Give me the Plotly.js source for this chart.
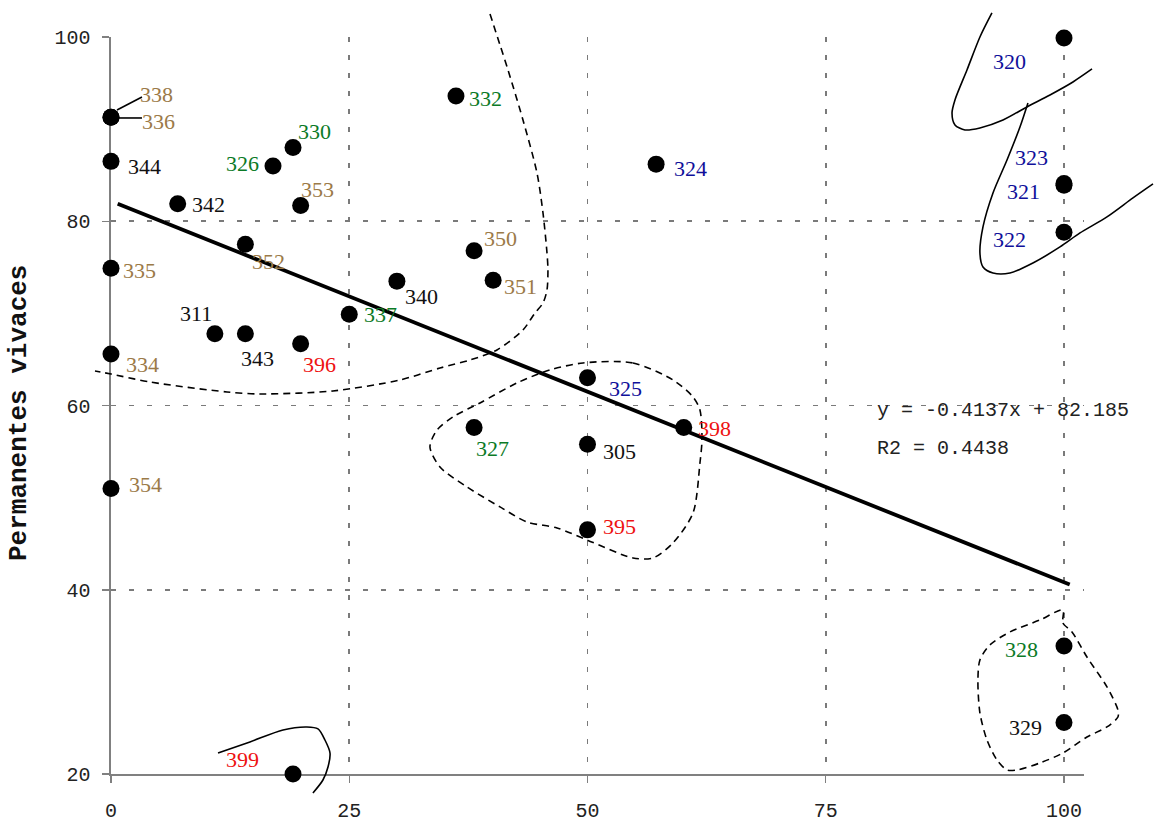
<!DOCTYPE html>
<html>
<head>
<meta charset="utf-8">
<script src="https://cdn.plot.ly/plotly-3.0.1.min.js"></script>
<style>
  html, body { margin: 0; padding: 0; background: #ffffff; }
  #chart { width: 1158px; height: 823px; }
</style>
</head>
<body>
<div id="chart"></div>
<script>
// Relevé codes and their coordinates
const ids = ['338','336','344','335','334','354','342','326','330','353','352','311','343','396','337','340',
             '332','350','351','324','325','327','305','398','395','320','323','321','322','328','329','399'];
const xVals = [0, 0, 0, 0, 0, 0, 7.0, 17.0, 19.1, 19.9, 14.1, 10.9, 14.1, 19.9, 25.0, 30.0,
               36.2, 38.1, 40.1, 57.2, 50.0, 38.1, 50.0, 60.1, 50.0, 100, 100, 100, 100, 100, 100, 19.1];
const yVals = [91.3, 91.3, 86.5, 74.9, 65.6, 51.0, 81.9, 86.0, 88.0, 81.7, 77.5, 67.8, 67.8, 66.7, 69.9, 73.5,
               93.6, 76.8, 73.6, 86.2, 63.0, 57.6, 55.8, 57.6, 46.5, 99.9, 84.1, 83.9, 78.8, 33.9, 25.6, 20.0];
const groups = ['b','b','k','b','b','b','k','g','g','b','b','k','k','r','g','k',
                'g','b','b','u','u','g','k','r','r','u','u','u','u','g','k','r'];

// Linear fit
const slope = -0.4137;
const intercept = 82.185;
const r2 = 0.4438;
const fitX = [0.7, 100.6];

// Hand-drawn group outlines (data units)
const outline1X = [39.77, 40.82, 41.66, 43.23, 44.70, 45.33, 45.75, 45.85, 45.75, 45.33, 44.49, 43.23, 40.50, 37.67, 34.52, 30.32, 23.29, 15.63, 12.17, 4.09, 0, -1.68];
const outline1Y = [102.50, 99.13, 96.42, 90.99, 85.24, 80.90, 76.56, 74.71, 72.54, 71.13, 70.04, 68.20, 66.03, 64.94, 64.07, 62.77, 61.58, 61.25, 61.47, 62.55, 63.42, 63.75];
const outline2X = [49.53, 54.77, 58.97, 61.07, 61.80, 62.01, 61.80, 61.07, 58.97, 56.87, 54.77, 49.95, 46.80, 43.65, 40.82, 37.35, 34.52, 33.47, 34.21, 35.88, 38.72, 42.60, 46.06, 49.53];
const outline2Y = [64.62, 64.62, 62.77, 60.93, 59.52, 56.26, 53.76, 48.33, 45.08, 43.45, 43.45, 45.40, 46.71, 47.36, 48.99, 51.16, 53.33, 55.50, 57.34, 58.76, 60.28, 62.45, 63.86, 64.62];
const outline3X = [99.89, 99.89, 100.84, 102.41, 104.51, 105.66, 105.66, 104.51, 102.41, 99.89, 97.48, 95.07, 94.02, 92.97, 91.92, 91.18, 90.97, 91.18, 92.23, 94.33, 97.48, 99.89];
const outline3Y = [37.81, 36.39, 35.42, 32.70, 29.45, 26.95, 26.19, 25.11, 24.02, 22.28, 21.20, 20.44, 20.44, 21.52, 23.69, 26.62, 30.21, 32.38, 34.01, 35.42, 36.72, 37.81];
const outline4X = [92.44, 91.18, 89.82, 88.56, 88.25, 88.56, 89.61, 91.18, 93.60, 96.11, 98.53, 100.94, 102.94];
const outline4Y = [102.61, 100.0, 96.42, 93.17, 91.75, 90.45, 89.91, 90.13, 90.99, 92.41, 93.71, 95.12, 96.53];
const outline5X = [96.22, 95.38, 94.02, 92.55, 91.50, 91.18, 91.50, 92.55, 94.33, 96.74, 99.58, 101.68, 104.51, 107.24, 109.34];
const outline5Y = [92.84, 90.23, 86.65, 83.07, 79.38, 76.56, 75.04, 74.39, 74.39, 75.47, 77.21, 78.73, 80.47, 82.53, 84.05];
const outline6X = [11.23, 14.58, 18.05, 20.56, 21.72, 22.45, 22.98, 22.77, 22.24, 21.19];
const outline6Y = [22.28, 23.48, 24.78, 25.10, 24.89, 23.69, 22.28, 20.76, 19.35, 17.94];
const leaderAX = [0.63, 3.25], leaderAY = [92.08, 93.49];
const leaderBX = [0.73, 3.25], leaderBY = [91.21, 91.21];

// Axis ticks
const xTicks = [0, 25, 50, 75, 100];
const yTicks = [20, 40, 60, 80, 100];
const yTitle = 'Permanentes vivaces';

// ---- presentation ----
const palette = { b: '#9b7a48', g: '#0b7a26', k: '#111111', u: '#10109a', r: '#ee1111' };
const labelShift = {
  '338': [45, -23], '336': [47, 4], '344': [33, 5], '335': [28, 2], '334': [31, 11], '354': [34, -4],
  '342': [31, 1], '326': [-31, -2], '330': [21, -16], '353': [17, -16], '352': [23, 17], '311': [-19, -20],
  '343': [12, 25], '396': [19, 21], '337': [31, 0], '340': [25, 15], '332': [30, 3], '350': [26, -12],
  '351': [27, 6], '324': [34, 4], '325': [38, 11], '327': [18, 21], '305': [32, 7], '398': [31, 1],
  '395': [32, -3], '320': [-54, 24], '323': [-32, -26], '321': [-40, 6], '322': [-54, 7], '328': [-42, 4],
  '329': [-38, 5], '399': [-51, -15]
};

const W = 1158, H = 823;
const xDom = [111 / W, 1084 / W];
const yDom = [49 / H, 786 / H];
const xRange = [0, 102.1];
const yRange = [20, 100];

// full-figure overlay axes with the same data scale, so outlines can run past the frame
function spanRange(r, d) {
  const s = (r[1] - r[0]) / (d[1] - d[0]);
  return [r[0] - d[0] * s, r[1] + (1 - d[1]) * s];
}
const x2Range = spanRange(xRange, xDom);
const y2Range = spanRange(yRange, yDom);

const dashed = { color: '#000', width: 1.6, dash: '7px,5px', shape: 'spline', smoothing: 0.8 };
const solid = { color: '#000', width: 1.6, shape: 'spline', smoothing: 0.8 };
function curve(x, y, line) {
  return { x: x, y: y, mode: 'lines', line: line, xaxis: 'x2', yaxis: 'y2', hoverinfo: 'skip', showlegend: false };
}

const traces = [
  // anchors the framed axes (nothing visible is drawn here)
  {
    x: xVals, y: yVals, mode: 'markers', marker: { opacity: 0 }, xaxis: 'x', yaxis: 'y',
    hoverinfo: 'skip', showlegend: false
  },
  curve(outline1X, outline1Y, dashed),
  curve(outline2X, outline2Y, dashed),
  curve(outline3X, outline3Y, dashed),
  curve(outline4X, outline4Y, solid),
  curve(outline5X, outline5Y, solid),
  curve(outline6X, outline6Y, solid),
  curve(leaderAX, leaderAY, { color: '#000', width: 1.6 }),
  curve(leaderBX, leaderBY, { color: '#000', width: 1.6 }),
  {
    x: fitX, y: fitX.map(v => slope * v + intercept), mode: 'lines',
    line: { color: '#000', width: 3.8 }, xaxis: 'x2', yaxis: 'y2', hoverinfo: 'skip', showlegend: false
  },
  {
    x: xVals, y: yVals, mode: 'markers', text: ids,
    marker: { color: '#000', size: 17 }, xaxis: 'x2', yaxis: 'y2', showlegend: false
  }
];

const annotations = ids.map((id, i) => ({
  x: xVals[i], y: yVals[i], xref: 'x2', yref: 'y2', text: id, showarrow: false,
  xanchor: 'center', yanchor: 'middle',
  xshift: labelShift[id][0], yshift: -labelShift[id][1],
  font: { family: 'Liberation Serif', size: 22, color: palette[groups[i]] }
}));

annotations.push({
  x: 875 / W, y: 1 - 411 / H, xref: 'paper', yref: 'paper', xanchor: 'left', yanchor: 'middle',
  showarrow: false, text: 'y = ' + slope + 'x + ' + intercept,
  font: { family: 'Liberation Mono', size: 20, color: '#222' }
});
annotations.push({
  x: 875 / W, y: 1 - 449 / H, xref: 'paper', yref: 'paper', xanchor: 'left', yanchor: 'middle',
  showarrow: false, text: 'R2 = ' + r2,
  font: { family: 'Liberation Mono', size: 20, color: '#222' }
});
annotations.push({
  x: 19 / W, y: 1 - 413 / H, xref: 'paper', yref: 'paper', xanchor: 'center', yanchor: 'middle',
  showarrow: false, text: '<b>' + yTitle + '</b>', textangle: -90,
  font: { family: 'Liberation Mono', size: 26, color: '#111' }
});

const axisCommon = {
  showline: true, linecolor: '#808080', linewidth: 1.6,
  ticks: 'outside', ticklen: 7, tickwidth: 1.5, tickcolor: '#808080',
  showgrid: true, gridcolor: '#7a7a7a', gridwidth: 1.6, griddash: '5px,13px',
  zeroline: false, fixedrange: true, automargin: false,
  tickfont: { family: 'Liberation Mono', size: 20, color: '#222' }
};

const layout = {
  width: W, height: H,
  margin: { l: 0, r: 0, t: 0, b: 0 },
  paper_bgcolor: '#ffffff', plot_bgcolor: 'rgba(0,0,0,0)',
  showlegend: false,
  xaxis: Object.assign({}, axisCommon, {
    domain: xDom, range: xRange, tickmode: 'array', tickvals: xTicks, anchor: 'y',
    ticklabelstandoff: 10
  }),
  yaxis: Object.assign({}, axisCommon, {
    domain: yDom, range: yRange, tickmode: 'array', tickvals: yTicks, anchor: 'x',
    ticklabelstandoff: 8
  }),
  xaxis2: { domain: [0, 1], range: x2Range, anchor: 'y2', visible: false, fixedrange: true },
  yaxis2: { domain: [0, 1], range: y2Range, anchor: 'x2', visible: false, fixedrange: true },
  annotations: annotations
};

Plotly.newPlot('chart', traces, layout, { displayModeBar: false, staticPlot: true });
</script>
</body>
</html>
